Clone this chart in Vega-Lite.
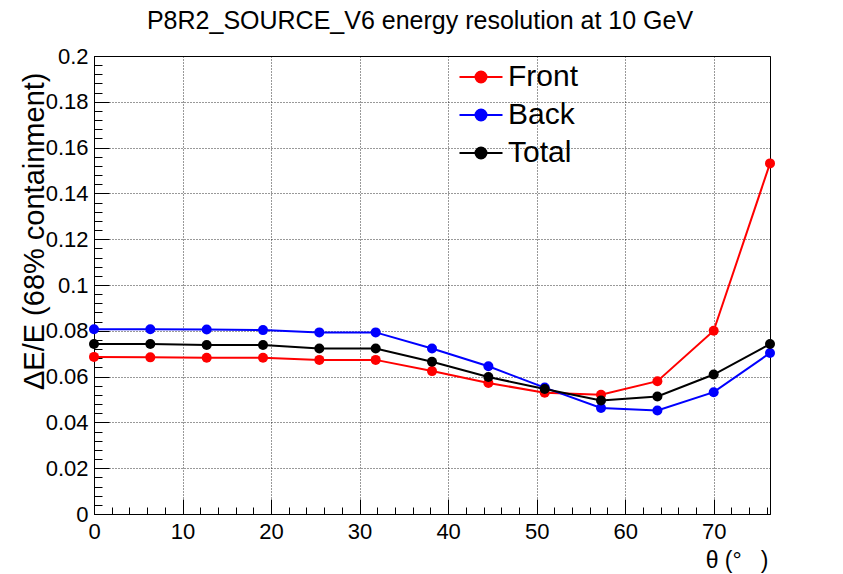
{
  "$schema": "https://vega.github.io/schema/vega-lite/v6.json",
  "width": 676,
  "height": 458,
  "autosize": "none",
  "padding": {"left": 94, "top": 56, "right": 73, "bottom": 60},
  "background": "white",
  "title": {
    "text": "P8R2_SOURCE_V6 energy resolution at 10 GeV",
    "font": "Liberation Sans",
    "fontSize": 25,
    "fontWeight": "normal",
    "color": "black",
    "anchor": "middle",
    "frame": "group",
    "offset": 25,
    "dy": 14,
    "dx": -12
  },
  "config": {
    "view": {"stroke": "black", "strokeWidth": 1},
    "axis": {
      "labelFont": "Liberation Sans",
      "titleFont": "Liberation Sans",
      "labelColor": "black",
      "titleColor": "black",
      "tickColor": "black",
      "domainColor": "black",
      "titleFontWeight": "normal",
      "labelFlush": false
    }
  },
  "data": {
    "values": [
      {"theta": 0, "series": "Front", "res": 0.0686},
      {"theta": 6.36, "series": "Front", "res": 0.0684},
      {"theta": 12.73, "series": "Front", "res": 0.0682},
      {"theta": 19.09, "series": "Front", "res": 0.0682},
      {"theta": 25.45, "series": "Front", "res": 0.0673},
      {"theta": 31.82, "series": "Front", "res": 0.0673},
      {"theta": 38.18, "series": "Front", "res": 0.0624},
      {"theta": 44.55, "series": "Front", "res": 0.0572},
      {"theta": 50.91, "series": "Front", "res": 0.0530},
      {"theta": 57.27, "series": "Front", "res": 0.0521},
      {"theta": 63.64, "series": "Front", "res": 0.0580},
      {"theta": 70.0, "series": "Front", "res": 0.0800},
      {"theta": 76.36, "series": "Front", "res": 0.1531},
      {"theta": 0, "series": "Back", "res": 0.0807},
      {"theta": 6.36, "series": "Back", "res": 0.0807},
      {"theta": 12.73, "series": "Back", "res": 0.0806},
      {"theta": 19.09, "series": "Back", "res": 0.0803},
      {"theta": 25.45, "series": "Back", "res": 0.0793},
      {"theta": 31.82, "series": "Back", "res": 0.0793},
      {"theta": 38.18, "series": "Back", "res": 0.0723},
      {"theta": 44.55, "series": "Back", "res": 0.0645},
      {"theta": 50.91, "series": "Back", "res": 0.0552},
      {"theta": 57.27, "series": "Back", "res": 0.0463},
      {"theta": 63.64, "series": "Back", "res": 0.0452},
      {"theta": 70.0, "series": "Back", "res": 0.0532},
      {"theta": 76.36, "series": "Back", "res": 0.0703},
      {"theta": 0, "series": "Total", "res": 0.0742},
      {"theta": 6.36, "series": "Total", "res": 0.0742},
      {"theta": 12.73, "series": "Total", "res": 0.0738},
      {"theta": 19.09, "series": "Total", "res": 0.0738},
      {"theta": 25.45, "series": "Total", "res": 0.0723},
      {"theta": 31.82, "series": "Total", "res": 0.0723},
      {"theta": 38.18, "series": "Total", "res": 0.0665},
      {"theta": 44.55, "series": "Total", "res": 0.0598},
      {"theta": 50.91, "series": "Total", "res": 0.0546},
      {"theta": 57.27, "series": "Total", "res": 0.0496},
      {"theta": 63.64, "series": "Total", "res": 0.0513},
      {"theta": 70.0, "series": "Total", "res": 0.0609},
      {"theta": 76.36, "series": "Total", "res": 0.0742}
    ]
  },
  "resolve": {"axis": {"x": "independent", "y": "independent"}},
  "layer": [
    {
      "mark": {"type": "line", "strokeWidth": 2},
      "encoding": {
        "x": {
          "field": "theta", "type": "quantitative",
          "scale": {"domain": [0, 76.36], "nice": false, "zero": false},
          "axis": {
            "orient": "bottom",
            "values": [0, 10, 20, 30, 40, 50, 60, 70],
            "format": "d",
            "labelFontSize": 22,
            "labelPadding": 22,
            "labelBaseline": "top",
            "tickSize": -15,
            "tickWidth": 1,
            "grid": true,
            "gridColor": "black",
            "gridDash": [1, 2],
            "gridWidth": 1,
            "gridOpacity": 0.8,
            "domainWidth": 1,
            "title": "θ\u00a0(°\u00a0\u00a0\u00a0)",
            "titleFontSize": 23,
            "titleAnchor": "end",
            "titleAlign": "right",
            "titleBaseline": "alphabetic",
            "titleX": 674,
            "titleY": 53
          }
        },
        "y": {
          "field": "res", "type": "quantitative",
          "scale": {"domain": [0, 0.2], "nice": false, "zero": true},
          "axis": {
            "orient": "left",
            "values": [0, 0.02, 0.04, 0.06, 0.08, 0.1, 0.12, 0.14, 0.16, 0.18, 0.2],
            "format": "~g",
            "labelFontSize": 22,
            "labelPadding": 21,
            "tickSize": -15,
            "tickWidth": 1,
            "grid": true,
            "gridColor": "black",
            "gridDash": [1, 2],
            "gridWidth": 1,
            "gridOpacity": 0.8,
            "domainWidth": 1,
            "title": "ΔE/E (68% containment)",
            "titleFontSize": 29,
            "titleAngle": -90,
            "titleAlign": "right",
            "titleBaseline": "alphabetic",
            "titleX": -51,
            "titleY": 16
          }
        },
        "color": {
          "field": "series", "type": "nominal",
          "scale": {"domain": ["Front", "Back", "Total"], "range": ["#ff0000", "#0000ff", "#000000"]},
          "legend": {
            "orient": "none",
            "legendX": 372,
            "legendY": 6,
            "title": null,
            "padding": 0,
            "symbolType": "M-2.15,0H2.15M-0.55,0A0.55,0.55 0 1,0 0.55,0A0.55,0.55 0 1,0 -0.55,0Z",
            "symbolSize": 400,
            "symbolStrokeWidth": 2,
            "labelFont": "Liberation Sans",
            "labelFontSize": 30,
            "labelColor": "black",
            "labelOffset": 12,
            "rowPadding": 8,
            "encode": {
              "symbols": {
                "update": {
                  "fill": {"scale": "color", "field": "value"},
                  "stroke": {"scale": "color", "field": "value"},
                  "fillOpacity": {"value": 1},
                  "strokeWidth": {"value": 2}
                }
              }
            }
          }
        }
      }
    },
    {
      "mark": {"type": "point", "filled": true, "size": 100, "opacity": 1},
      "encoding": {
        "x": {
          "field": "theta", "type": "quantitative",
          "axis": {
            "orient": "bottom",
            "values": [2,4,6,8,12,14,16,18,22,24,26,28,32,34,36,38,42,44,46,48,52,54,56,58,62,64,66,68,72,74,76],
            "labels": false,
            "domain": false,
            "grid": false,
            "tickSize": -7,
            "tickWidth": 1,
            "title": null
          }
        },
        "y": {
          "field": "res", "type": "quantitative",
          "axis": {
            "orient": "left",
            "values": [0.004,0.008,0.012,0.016,0.024,0.028,0.032,0.036,0.044,0.048,0.052,0.056,0.064,0.068,0.072,0.076,0.084,0.088,0.092,0.096,0.104,0.108,0.112,0.116,0.124,0.128,0.132,0.136,0.144,0.148,0.152,0.156,0.164,0.168,0.172,0.176,0.184,0.188,0.192,0.196],
            "labels": false,
            "domain": false,
            "grid": false,
            "tickSize": -8,
            "tickWidth": 1,
            "title": null
          }
        },
        "color": {"field": "series", "type": "nominal"}
      }
    }
  ]
}
